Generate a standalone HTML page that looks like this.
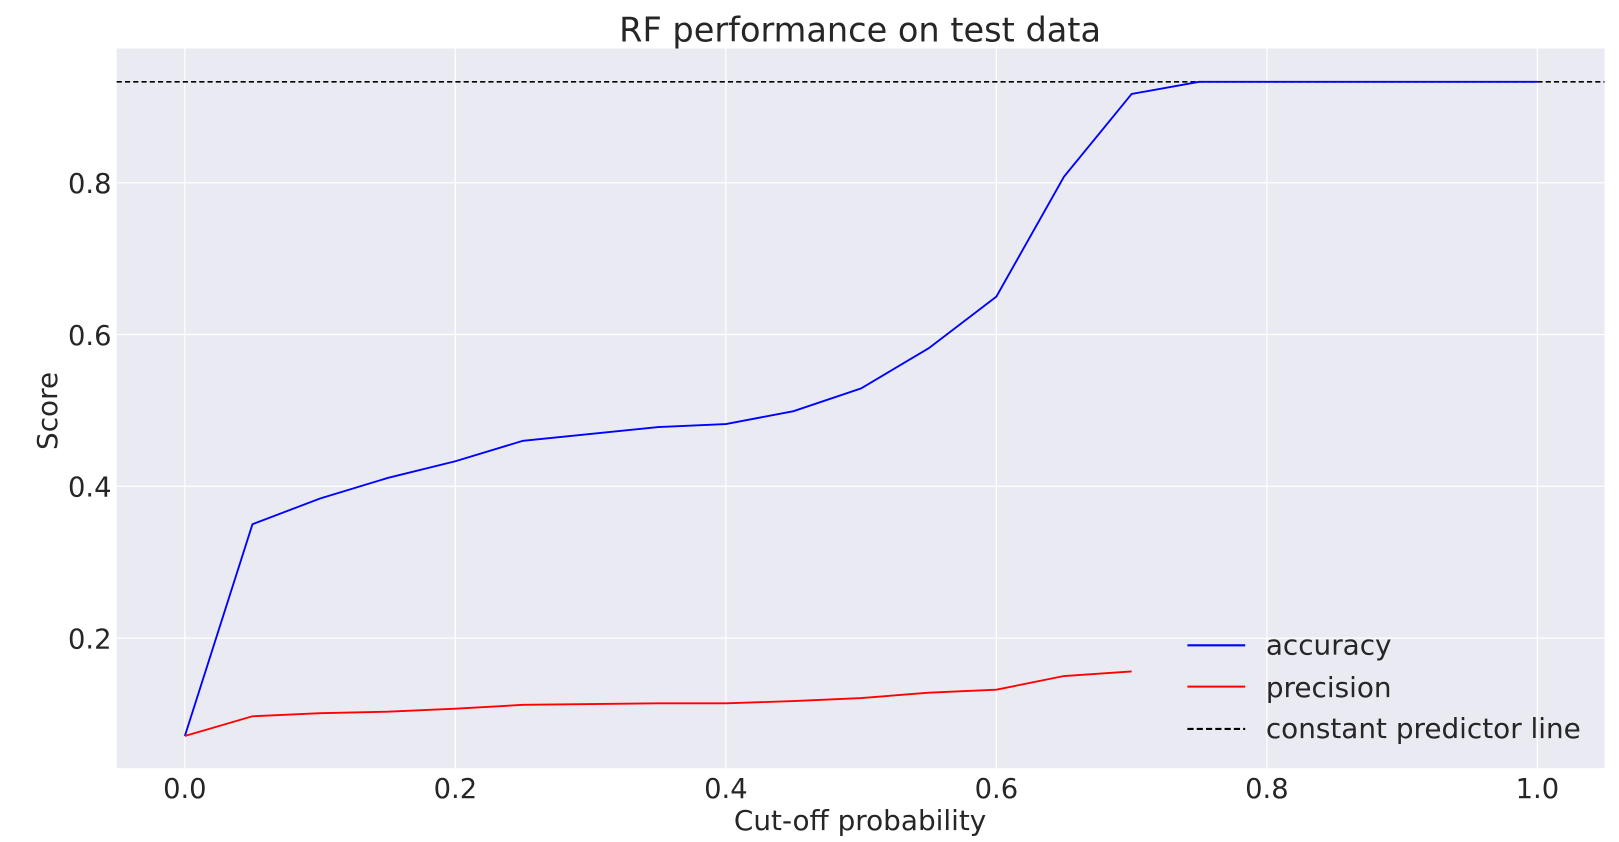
<!DOCTYPE html>
<html><head><meta charset="utf-8"><style>
body{margin:0;background:#fff;font-family:"Liberation Sans","DejaVu Sans",sans-serif;}
svg{display:block;}
svg text{font-family:"DejaVu Sans","Liberation Sans",sans-serif;fill:#262626;}
</style></head><body>
<svg id="chart" width="1619" height="842" viewBox="0 0 1568 815.5" xmlns="http://www.w3.org/2000/svg">
<rect x="0" y="0" width="1568" height="815.5" fill="#fff"/>
<rect x="113" y="47" width="1441" height="697" fill="#eaeaf2"/>
<g id="grid"></g>
<g id="series"></g>
<text x="833" y="40" font-size="32.5" text-anchor="middle">RF performance on test data</text>
<text x="833" y="804" font-size="27" text-anchor="middle">Cut-off probability</text>
<text transform="translate(55,398) rotate(-90)" font-size="27" text-anchor="middle">Score</text>
<g>
<line x1="1150" y1="625" x2="1206" y2="625" stroke="#0000ff" stroke-width="2"/>
<text x="1226" y="634" font-size="27">accuracy</text>
<line x1="1150" y1="665" x2="1206" y2="665" stroke="#ff0000" stroke-width="2"/>
<text x="1226" y="675" font-size="27">precision</text>
<line x1="1150" y1="706" x2="1206" y2="706" stroke="#000" stroke-width="2" stroke-dasharray="6,3"/>
<text x="1226" y="715" font-size="27">constant predictor line</text>
</g>
</svg>
<script>
const cutoffs=[0,0.05,0.1,0.15,0.2,0.25,0.3,0.35,0.4,0.45,0.5,0.55,0.6,0.65,0.7,0.75,0.8,0.85,0.9,0.95,1.0];
const accuracy=[0.071,0.35,0.384,0.411,0.433,0.46,0.469,0.478,0.482,0.499,0.529,0.582,0.65,0.808,0.917,0.933,0.933,0.933,0.933,0.933,0.933];
const precisionCutoffs=[0,0.05,0.1,0.15,0.2,0.25,0.3,0.35,0.4,0.45,0.5,0.55,0.6,0.65,0.7];
const precision=[0.071,0.097,0.101,0.103,0.107,0.112,0.113,0.114,0.114,0.117,0.121,0.128,0.132,0.150,0.156];
const constantValue=0.933;
const xTicks=[0,0.2,0.4,0.6,0.8,1.0];
const xTickLabels=["0.0","0.2","0.4","0.6","0.8","1.0"];
const yTicks=[0.2,0.4,0.6,0.8];
const yTickLabels=["0.2","0.4","0.6","0.8"];
const NS="http://www.w3.org/2000/svg";
const X=v=>179+v*1310;
const Y=v=>765-v*735;
const grid=document.getElementById('grid'),svg=document.getElementById('chart'),ser=document.getElementById('series');
function mk(tag,attrs,parent){const e=document.createElementNS(NS,tag);for(const k in attrs)e.setAttribute(k,attrs[k]);parent.appendChild(e);return e;}
xTicks.forEach((t,i)=>{
 const l=mk('line',{x1:X(t),x2:X(t),y1:47,y2:744,stroke:'#fff','stroke-width':1.2},grid);
 
 
 const tx=mk('text',{x:X(t),y:773,'font-size':26.5,'text-anchor':'middle'},svg);
 tx.textContent=xTickLabels[i];
 
 
});
yTicks.forEach((t,i)=>{
 const l=mk('line',{x1:113,x2:1554,y1:Y(t),y2:Y(t),stroke:'#fff','stroke-width':1.2},grid);
 
 
 const tx=mk('text',{x:108,y:Y(t)+10,'font-size':26.5,'text-anchor':'end'},svg);
 tx.textContent=yTickLabels[i];
 
 
});
const c=mk('line',{x1:113,x2:1554,y1:Y(constantValue),y2:Y(constantValue),stroke:'#000','stroke-width':1.5,'stroke-dasharray':'5,3'},ser);


const a=mk('polyline',{points:cutoffs.map((x,i)=>X(x)+','+Y(accuracy[i])).join(' '),fill:'none',stroke:'#0000ff','stroke-width':1.8},ser);


const p=mk('polyline',{points:precisionCutoffs.map((x,i)=>X(x)+','+Y(precision[i])).join(' '),fill:'none',stroke:'#ff0000','stroke-width':1.8},ser);


</script>
</body></html>
